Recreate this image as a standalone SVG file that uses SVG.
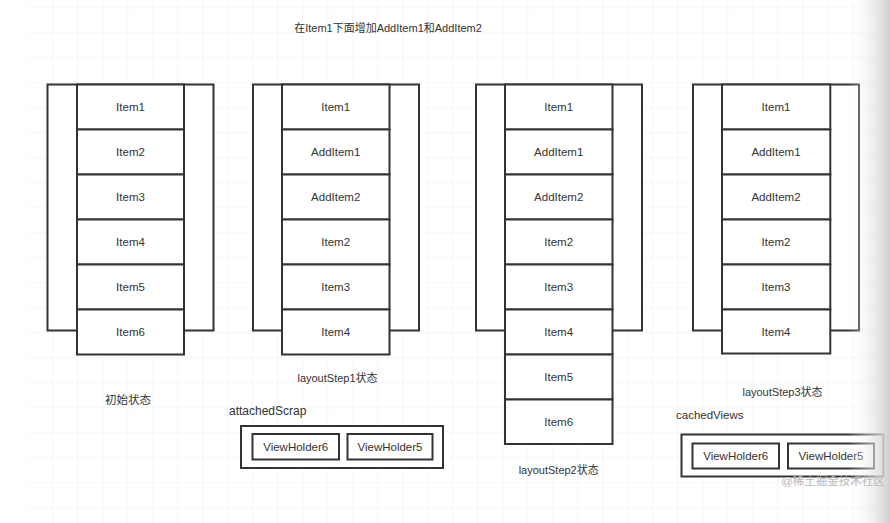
<svg xmlns="http://www.w3.org/2000/svg" width="890" height="523" viewBox="0 0 890 523">
  <defs>
    <pattern id="grid" x="3.3" y="8.3" width="25" height="25" patternUnits="userSpaceOnUse">
      <path d="M25 0 V25 M0 25 H25" fill="none" stroke="#ececec" stroke-width="1"/>
    </pattern>
    <linearGradient id="edge" x1="0" y1="0" x2="1" y2="0">
      <stop offset="0" stop-color="#ffffff" stop-opacity="0"/>
      <stop offset="1" stop-color="#cfcfcf" stop-opacity="1"/>
    </linearGradient>
  </defs>
  <style>
    .box { fill: #ffffff; stroke: #333333; stroke-width: 2; }
    .frame { fill: #ffffff; stroke: #333333; stroke-width: 2; }
    .t { font-family: "Liberation Sans", "Noto Sans CJK SC", sans-serif; font-size: 11.5px; fill: #333333; text-anchor: middle; dominant-baseline: central; }
    .l { font-family: "Liberation Sans", "Noto Sans CJK SC", sans-serif; font-size: 11.5px; fill: #333333; dominant-baseline: central; }
    .vh { font-family: "Liberation Sans", "Noto Sans CJK SC", sans-serif; font-size: 11.5px; fill: #333333; text-anchor: middle; dominant-baseline: central; }
  </style>
  <rect x="0" y="0" width="890" height="523" fill="#ffffff"/>
  <rect x="28" y="0" width="862" height="523" fill="url(#grid)"/>

  <text class="t" x="388" y="28" style="font-size:11px">在Item1下面增加AddItem1和AddItem2</text>

  <g id="list1">
    <rect class="frame" x="47.5" y="84.5" width="166" height="246"/>
    <g id="l1-item1"><rect class="box" x="77" y="84.5" width="107" height="45"/><text class="t" x="130.5" y="107">Item1</text></g>
    <g id="l1-item2"><rect class="box" x="77" y="129.5" width="107" height="45"/><text class="t" x="130.5" y="152">Item2</text></g>
    <g id="l1-item3"><rect class="box" x="77" y="174.5" width="107" height="45"/><text class="t" x="130.5" y="197">Item3</text></g>
    <g id="l1-item4"><rect class="box" x="77" y="219.5" width="107" height="45"/><text class="t" x="130.5" y="242">Item4</text></g>
    <g id="l1-item5"><rect class="box" x="77" y="264.5" width="107" height="45"/><text class="t" x="130.5" y="287">Item5</text></g>
    <g id="l1-item6"><rect class="box" x="77" y="309.5" width="107" height="45"/><text class="t" x="130.5" y="332">Item6</text></g>
    <text class="t" x="128" y="400">初始状态</text>
  </g>

  <g id="list2">
    <rect class="frame" x="253" y="84.5" width="166" height="246"/>
    <g id="l2-item1"><rect class="box" x="282" y="84.5" width="107.5" height="45"/><text class="t" x="335.7" y="107">Item1</text></g>
    <g id="l2-add1"><rect class="box" x="282" y="129.5" width="107.5" height="45"/><text class="t" x="335.7" y="152">AddItem1</text></g>
    <g id="l2-add2"><rect class="box" x="282" y="174.5" width="107.5" height="45"/><text class="t" x="335.7" y="197">AddItem2</text></g>
    <g id="l2-item2"><rect class="box" x="282" y="219.5" width="107.5" height="45"/><text class="t" x="335.7" y="242">Item2</text></g>
    <g id="l2-item3"><rect class="box" x="282" y="264.5" width="107.5" height="45"/><text class="t" x="335.7" y="287">Item3</text></g>
    <g id="l2-item4"><rect class="box" x="282" y="309.5" width="107.5" height="45"/><text class="t" x="335.7" y="332">Item4</text></g>
    <text class="t" x="337.5" y="378" style="font-size:11px">layoutStep1状态</text>
  </g>

  <g id="scrap">
    <text class="l" x="229" y="410.5" style="font-size:12px">attachedScrap</text>
    <rect class="frame" x="241" y="426" width="202" height="42"/>
    <g id="scrap-vh6"><rect class="box" x="252.5" y="434" width="86.5" height="25.5"/><text class="vh" x="295.7" y="447">ViewHolder6</text></g>
    <g id="scrap-vh5"><rect class="box" x="347.5" y="434" width="85" height="25.5"/><text class="vh" x="390" y="447">ViewHolder5</text></g>
  </g>

  <g id="list3">
    <rect class="frame" x="476" y="84.5" width="166" height="246"/>
    <g id="l3-item1"><rect class="box" x="505" y="84.5" width="107.5" height="45"/><text class="t" x="558.7" y="107">Item1</text></g>
    <g id="l3-add1"><rect class="box" x="505" y="129.5" width="107.5" height="45"/><text class="t" x="558.7" y="152">AddItem1</text></g>
    <g id="l3-add2"><rect class="box" x="505" y="174.5" width="107.5" height="45"/><text class="t" x="558.7" y="197">AddItem2</text></g>
    <g id="l3-item2"><rect class="box" x="505" y="219.5" width="107.5" height="45"/><text class="t" x="558.7" y="242">Item2</text></g>
    <g id="l3-item3"><rect class="box" x="505" y="264.5" width="107.5" height="45"/><text class="t" x="558.7" y="287">Item3</text></g>
    <g id="l3-item4"><rect class="box" x="505" y="309.5" width="107.5" height="45"/><text class="t" x="558.7" y="332">Item4</text></g>
    <g id="l3-item5"><rect class="box" x="505" y="354.5" width="107.5" height="45"/><text class="t" x="558.7" y="377">Item5</text></g>
    <g id="l3-item6"><rect class="box" x="505" y="399.5" width="107.5" height="44.5"/><text class="t" x="558.7" y="422">Item6</text></g>
    <text class="t" x="558.7" y="469.5" style="font-size:11px">layoutStep2状态</text>
  </g>

  <g id="list4">
    <rect class="frame" x="693" y="84.5" width="166" height="246"/>
    <g id="l4-item1"><rect class="box" x="722" y="84.5" width="108.3" height="45"/><text class="t" x="776" y="107">Item1</text></g>
    <g id="l4-add1"><rect class="box" x="722" y="129.5" width="108.3" height="45"/><text class="t" x="776" y="152">AddItem1</text></g>
    <g id="l4-add2"><rect class="box" x="722" y="174.5" width="108.3" height="45"/><text class="t" x="776" y="197">AddItem2</text></g>
    <g id="l4-item2"><rect class="box" x="722" y="219.5" width="108.3" height="45"/><text class="t" x="776" y="242">Item2</text></g>
    <g id="l4-item3"><rect class="box" x="722" y="264.5" width="108.3" height="45"/><text class="t" x="776" y="287">Item3</text></g>
    <g id="l4-item4"><rect class="box" x="722" y="309.5" width="108.3" height="44"/><text class="t" x="776" y="332">Item4</text></g>
    <text class="t" x="782.5" y="391.5" style="font-size:11px">layoutStep3状态</text>
  </g>

  <g id="cached">
    <text class="l" x="676" y="415">cachedViews</text>
    <rect class="frame" x="681.5" y="434.5" width="202" height="42"/>
    <g id="cached-vh6"><rect class="box" x="692.5" y="443.5" width="86.5" height="25"/><text class="vh" x="735.7" y="456">ViewHolder6</text></g>
    <g id="cached-vh5"><rect class="box" x="788" y="443.5" width="86" height="25"/><text class="vh" x="831" y="456">ViewHolder5</text></g>
  </g>

  <g id="connectors"></g>

  <rect x="848" y="0" width="42" height="523" fill="url(#edge)"/>
  <text x="781" y="481" style="font-family:'Liberation Sans','Noto Sans CJK SC',sans-serif;font-size:11.5px;fill:#b8b8b8;dominant-baseline:central">@稀土掘金技术社区</text>
</svg>
